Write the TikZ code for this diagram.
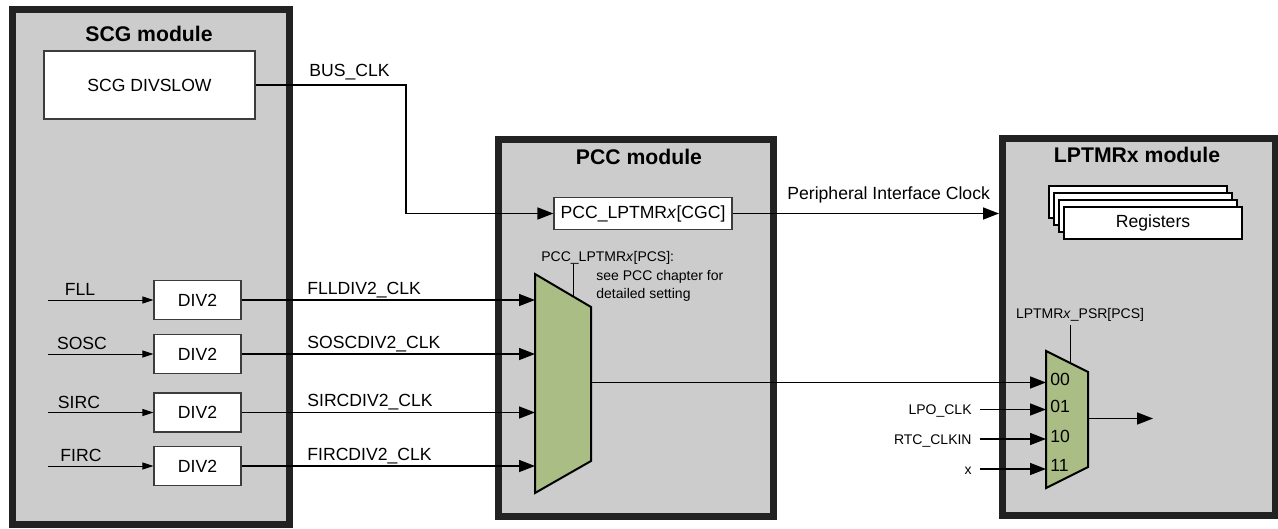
\documentclass[tikz,border=0pt]{standalone}
\usepackage{fontspec}
\setsansfont{Liberation Sans}
\usepackage{tikz}
\usetikzlibrary{arrows.meta, positioning}
\definecolor{moduleGray}{RGB}{204, 204, 204}
\definecolor{frameColor}{RGB}{34, 34, 34}
\definecolor{muxGreen}{RGB}{170, 189, 133}
\definecolor{boxLine}{RGB}{60, 60, 60}

\begin{document}
\begin{tikzpicture}[x=0.5pt, y=-0.5pt, font=\sffamily\fontsize{8.8}{10.5}\selectfont,
	module/.style={draw=frameColor, line width=3.5pt, fill=moduleGray, inner sep=0pt},
	modtitle/.style={font=\sffamily\bfseries\fontsize{10.6}{12}\selectfont},
	blockbox/.style={draw=boxLine, line width=0.6pt, fill=white, inner sep=0pt},
	regbox/.style={draw=black, line width=0.7pt, fill=white, minimum width=89pt, minimum height=16pt},
	small/.style={font=\sffamily\fontsize{7}{9}\selectfont},
	srclbl/.style={small, anchor=east, text height=5pt, text depth=0pt, inner xsep=4pt, inner ysep=0pt},
	sig/.style={line width=0.75pt, -{Triangle[length=8pt, width=6pt]}},
	thinsig/.style={line width=0.5pt, -{Triangle[length=5.5pt, width=3.5pt]}},
	mux/.style={draw=black, line width=1pt, fill=muxGreen, line join=miter}]

	\useasboundingbox (0,0) rectangle (1278,529);

	% Module frames
	\node[module, minimum width=138.25pt, minimum height=257pt] (scg) at (150.75, 267) {};
	\node[module, minimum width=137.5pt, minimum height=188.25pt] (pcc) at (636, 327.75) {};
	\node[module, minimum width=136.25pt, minimum height=188.25pt] (lptmr) at (1138.75, 326.75) {};

	\node[modtitle] (scgTitle) at (149, 34) {SCG module};
	\node[modtitle] (pccTitle) at (639, 156.5) {PCC module};
	\node[modtitle] (lptmrTitle) at (1137, 155) {LPTMRx module};

	% SCG blocks
	\node[blockbox, minimum width=105.5pt, minimum height=34pt] (divslow) at (149.5, 85) {SCG DIVSLOW};
	\node[blockbox, minimum width=43.5pt, minimum height=19.5pt] (divFll) at (197.5, 300) {DIV2};
	\node[blockbox, minimum width=43.5pt, minimum height=19.5pt] (divSosc) at (197.5, 354) {DIV2};
	\node[blockbox, minimum width=43.5pt, minimum height=19.5pt] (divSirc) at (197.5, 412.5) {DIV2};
	\node[blockbox, minimum width=43.5pt, minimum height=19.5pt] (divFirc) at (197.5, 466) {DIV2};

	% Clock sources
	\coordinate (fllIn) at (47.5, 300);
	\coordinate (soscIn) at (47.5, 354);
	\coordinate (sircIn) at (47.5, 412.5);
	\coordinate (fircIn) at (47.5, 466);
	\node[anchor=base, inner sep=0pt] (fllLbl) at (80, 295.5) {FLL};
	\node[anchor=base, inner sep=0pt] (soscLbl) at (82, 349.5) {SOSC};
	\node[anchor=base, inner sep=0pt] (sircLbl) at (79, 408) {SIRC};
	\node[anchor=base, inner sep=0pt] (fircLbl) at (81, 461.5) {FIRC};
	\draw[thinsig] (fllIn) -- (divFll.west);
	\draw[thinsig] (soscIn) -- (divSosc.west);
	\draw[thinsig] (sircIn) -- (divSirc.west);
	\draw[thinsig] (fircIn) -- (divFirc.west);

	% PCC blocks
	\node[blockbox, minimum width=89pt, minimum height=16pt] (cgc) at (643, 213.5) {PCC\_LPTMR\textit{x}[CGC]};

	% PCC mux corners
	\coordinate (pccMuxTL) at (535, 274);
	\coordinate (pccMuxTR) at (591, 307);
	\coordinate (pccMuxBR) at (591, 461);
	\coordinate (pccMuxBL) at (535, 493);
	\coordinate (pccMuxOut) at (591, 382.5);
	\draw[mux] (pccMuxTL) -- (pccMuxTR) -- (pccMuxBR) -- (pccMuxBL) -- cycle;

	\coordinate (pcsTop) at (573.3, 264);
	\draw[line width=0.6pt] (pcsTop) -- ++(0, 32.6);
	\node[small, anchor=base west, inner sep=0pt] (pcsLbl) at (541, 261.5) {PCC\_LPTMR\textit{x}[PCS]:};
	\node[small, anchor=base west, inner sep=0pt] (pcsNoteA) at (596, 280) {see PCC chapter for};
	\node[small, anchor=base west, inner sep=0pt] (pcsNoteB) at (596, 298) {detailed setting};

	% Divided clocks into PCC mux
	\draw[sig] (divFll.east) -- (divFll.east -| pccMuxTL);
	\draw[sig] (divSosc.east) -- (divSosc.east -| pccMuxTL);
	\draw[sig] (divSirc.east) -- (divSirc.east -| pccMuxTL);
	\draw[sig] (divFirc.east) -- (divFirc.east -| pccMuxTL);
	\node[anchor=base west, inner sep=0pt] (fllDivLbl) at (307, 294) {FLLDIV2\_CLK};
	\node[anchor=base west, inner sep=0pt] (soscDivLbl) at (307, 348) {SOSCDIV2\_CLK};
	\node[anchor=base west, inner sep=0pt] (sircDivLbl) at (307, 406.5) {SIRCDIV2\_CLK};
	\node[anchor=base west, inner sep=0pt] (fircDivLbl) at (307, 460) {FIRCDIV2\_CLK};

	% Bus clock
	\draw[sig] (divslow.east) -- ++(150.5, 0) |- (cgc.west);
	\node[anchor=base west, inner sep=0pt] (busLbl) at (309, 77) {BUS\_CLK};

	% Peripheral interface clock
	\draw[sig] (cgc.east) -- (cgc.east -| lptmr.west);
	\node[anchor=base west, inner sep=0pt] (pclkLbl) at (787, 199) {Peripheral Interface Clock};

	% Registers
	\node[regbox] (regD) at (1138, 202) {};
	\node[regbox] (regC) at (1143, 209) {};
	\node[regbox] (regB) at (1148, 216) {};
	\node[regbox] (regA) at (1153, 223) {Registers};

	% LPTMR mux corners
	\coordinate (lpMuxTL) at (1046, 351);
	\coordinate (lpMuxTR) at (1088, 372);
	\coordinate (lpMuxBR) at (1088, 467);
	\coordinate (lpMuxBL) at (1046, 488);
	\coordinate (lpMuxOut) at (1088, 418.5);
	\coordinate (lpOut) at (1153, 418.5);
	\draw[mux] (lpMuxTL) -- (lpMuxTR) -- (lpMuxBR) -- (lpMuxBL) -- cycle;

	\coordinate (psrTop) at (1070.7, 325);
	\draw[line width=0.6pt] (psrTop) -- ++(0, 37.5);
	\node[small, anchor=base, inner sep=0pt] (psrLbl) at (1080, 318.5) {LPTMR\textit{x}\_PSR[PCS]};

	% LPTMR mux inputs
	\node[srclbl] (lpoLbl) at (980, 409.5) {LPO\_CLK};
	\node[srclbl] (rtcLbl) at (980, 439) {RTC\_CLKIN};
	\node[srclbl] (xLbl) at (980, 469) {x};
	\draw[sig] (pccMuxOut) -- (pccMuxOut -| lpMuxTL);
	\draw[sig] (lpoLbl.east) -- (lpoLbl.east -| lpMuxTL);
	\draw[sig] (rtcLbl.east) -- (rtcLbl.east -| lpMuxTL);
	\draw[sig] (xLbl.east) -- (xLbl.east -| lpMuxTL);
	\node[anchor=west, inner sep=0pt] (selA) at (1050, 379) {00};
	\node[anchor=west, inner sep=0pt] (selB) at (1050, 406.5) {01};
	\node[anchor=west, inner sep=0pt] (selC) at (1050, 436) {10};
	\node[anchor=west, inner sep=0pt] (selD) at (1050, 465.5) {11};
	\draw[sig] (lpMuxOut) -- (lpOut);
\end{tikzpicture}
\end{document}
